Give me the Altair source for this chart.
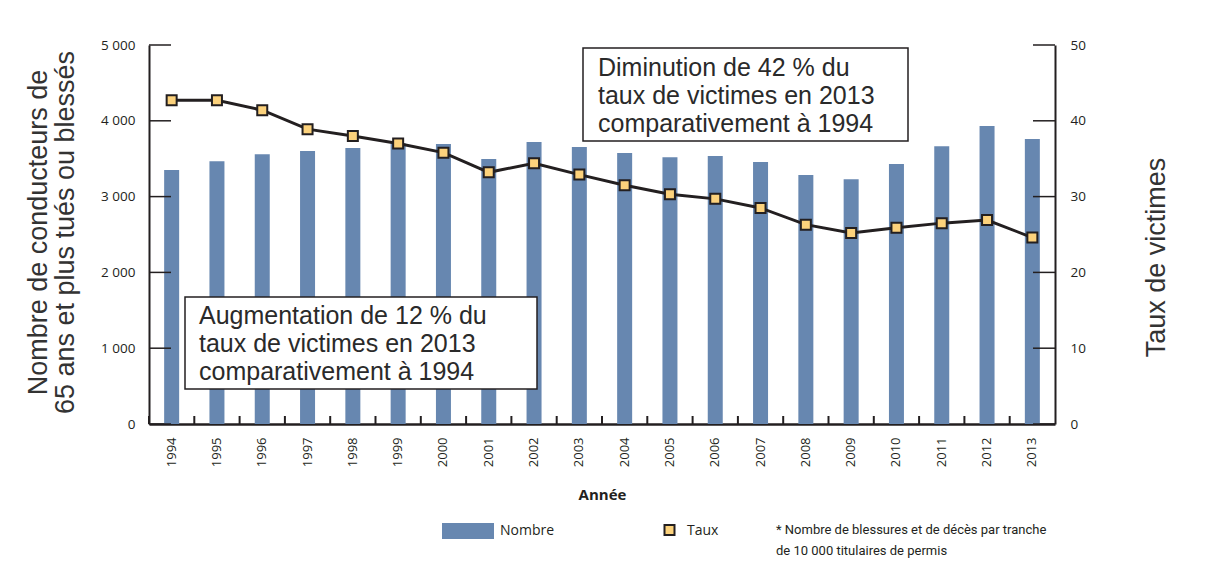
import altair as alt
import pandas as pd

# ---- data ----
annees = [str(y) for y in range(1994, 2014)]
nombre = [3350, 3465, 3560, 3600, 3640, 3705, 3695, 3495, 3720, 3655,
          3575, 3520, 3535, 3455, 3285, 3230, 3430, 3665, 3930, 3760]
taux = [42.7, 42.7, 41.4, 38.9, 38.0, 37.0, 35.8, 33.2, 34.4, 32.9,
        31.5, 30.3, 29.7, 28.5, 26.3, 25.2, 25.9, 26.5, 26.9, 24.6]
ticks_gauche = [0, 1000, 2000, 3000, 4000, 5000]
ticks_droite = [0, 10, 20, 30, 40, 50]
titre_gauche = ["Nombre de conducteurs de", "65 ans et plus tués ou blessés"]
titre_droite = "Taux de victimes"
titre_x = "Année"
note1 = "Diminution de 42 % du\ntaux de victimes en 2013\ncomparativement à 1994"
note2 = "Augmentation de 12 % du\ntaux de victimes en 2013\ncomparativement à 1994"
legende = ["Nombre", "Taux"]
renvoi = "* Nombre de blessures et de décès par tranche\nde 10 000 titulaires de permis"

df = pd.DataFrame({"annee": annees, "nombre": nombre, "taux": taux})
dl = pd.DataFrame({"v": ticks_gauche})
dr = pd.DataFrame({"v": ticks_droite})
one = pd.DataFrame({"a": [0]})

W, H = 906, 379
INK = "#231f20"
BLUE = "#6787b0"
YELLOW = "#fcd27c"
BIG = "Liberation Sans"
SMALL = "Open Sans"

xscale = alt.Scale(paddingInner=0, paddingOuter=0)
xaxis = alt.Axis(
    labelAngle=270, ticks=False, grid=False, domainColor=INK, domainWidth=2.5,
    labelFont=SMALL, labelFontSize=13, labelColor=INK, labelPadding=13,
    title=titre_x, titleFont=SMALL, titleFontSize=15, titleFontWeight="bold",
    titleColor=INK, titleY=70, titleBaseline="middle",
)
X = alt.X("annee:O", scale=xscale, axis=xaxis)

lscale = alt.Scale(domain=[0, 5000], nice=False)
rscale = alt.Scale(domain=[0, 50], nice=False)

laxis = alt.Axis(
    values=ticks_gauche, ticks=False, grid=False, domainColor=INK, domainWidth=2,
    labelFont=SMALL, labelFontSize=13.5, labelColor=INK, labelPadding=14,
    labelExpr="replace(format(datum.value, ','), ',', ' ')",
    title=titre_gauche, titleFont=BIG, titleFontSize=27, titleFontWeight="normal",
    titleColor="#333333", titleAngle=270, titleX=-111, titleY=187,
    titleBaseline="middle", titleAlign="center", titleLineHeight=27,
)
raxis = alt.Axis(
    orient="right", values=ticks_droite, ticks=False, grid=False, domainColor=INK,
    domainWidth=2, labelFont=SMALL, labelFontSize=13.5, labelColor=INK,
    labelPadding=15, title=titre_droite, titleFont=BIG, titleFontSize=27,
    titleFontWeight="normal", titleColor="#333333", titleAngle=270,
    titleX=101, titleY=212, titleBaseline="middle", titleAlign="center",
)

bars = alt.Chart(df).mark_bar(width=15, color=BLUE).encode(
    x=X, y=alt.Y("nombre:Q", scale=lscale, axis=laxis)
)
lticks = alt.Chart(dl).mark_rule(color=INK, strokeWidth=1.5).encode(
    y=alt.Y("v:Q", scale=lscale, axis=laxis), x=alt.value(0), x2=alt.value(22)
)
xticks = alt.Chart(df).mark_rule(color=INK, strokeWidth=2).encode(
    x=alt.X("annee:O", scale=xscale, axis=xaxis, bandPosition=0),
    y=alt.value(H - 8), y2=alt.value(H),
)
left = alt.layer(bars, lticks, xticks)

line = alt.Chart(df).mark_line(color=INK, strokeWidth=3).encode(
    x=X, y=alt.Y("taux:Q", scale=rscale, axis=raxis)
)
pts = alt.Chart(df).mark_point(
    shape="square", filled=True, fill=YELLOW, stroke=INK, strokeWidth=2,
    size=100, opacity=1,
).encode(x=X, y=alt.Y("taux:Q", scale=rscale, axis=raxis))
rticks = alt.Chart(dr).mark_rule(color=INK, strokeWidth=1.5).encode(
    y=alt.Y("v:Q", scale=rscale, axis=raxis), x=alt.value(W - 22), x2=alt.value(W)
)
right = alt.layer(line, pts, rticks)

# annotation boxes
box1 = alt.Chart(one).mark_rect(fill="white", stroke=INK, strokeWidth=1.5).encode(
    x=alt.value(434), x2=alt.value(759), y=alt.value(3), y2=alt.value(96)
)
txt1 = alt.Chart(one).mark_text(
    text=note1, lineBreak="\n", font=BIG, fontSize=25, color="#2a2a2a",
    align="left", baseline="alphabetic", lineHeight=28,
).encode(x=alt.value(449), y=alt.value(31))
box2 = alt.Chart(one).mark_rect(fill="white", stroke=INK, strokeWidth=1.5).encode(
    x=alt.value(36), x2=alt.value(388), y=alt.value(252), y2=alt.value(344)
)
txt2 = alt.Chart(one).mark_text(
    text=note2, lineBreak="\n", font=BIG, fontSize=25, color="#2a2a2a",
    align="left", baseline="alphabetic", lineHeight=28,
).encode(x=alt.value(50), y=alt.value(279))

# legend
leg_rect = alt.Chart(one).mark_rect(fill=BLUE).encode(
    x=alt.value(293), x2=alt.value(345), y=alt.value(478), y2=alt.value(494)
)
leg_t1 = alt.Chart(one).mark_text(
    text=legende[0], font=SMALL, fontSize=14, color=INK, align="left", baseline="middle"
).encode(x=alt.value(351), y=alt.value(486))
leg_sq = alt.Chart(one).mark_point(
    shape="square", filled=True, fill=YELLOW, stroke=INK, strokeWidth=2, size=100, opacity=1
).encode(x=alt.value(520.5), y=alt.value(485))
leg_t2 = alt.Chart(one).mark_text(
    text=legende[1], font=SMALL, fontSize=14, color=INK, align="left", baseline="middle"
).encode(x=alt.value(538), y=alt.value(486))
foot = alt.Chart(one).mark_text(
    text=renvoi, lineBreak="\n", font="Roboto",
    fontSize=13, color=INK, align="left", baseline="middle", lineHeight=21,
).encode(x=alt.value(627), y=alt.value(485))

chart = alt.layer(
    left, right, box1, txt1, box2, txt2, leg_rect, leg_t1, leg_sq, leg_t2, foot
).resolve_scale(y="independent").properties(
    width=W, height=H,
    autosize=alt.AutoSizeParams(type="none"),
    padding={"left": 141, "top": 37, "right": 142, "bottom": 150},
    background="white",
).configure_view(stroke=None)

chart.save("out.html", embed_options={"renderer": "svg", "actions": False})
